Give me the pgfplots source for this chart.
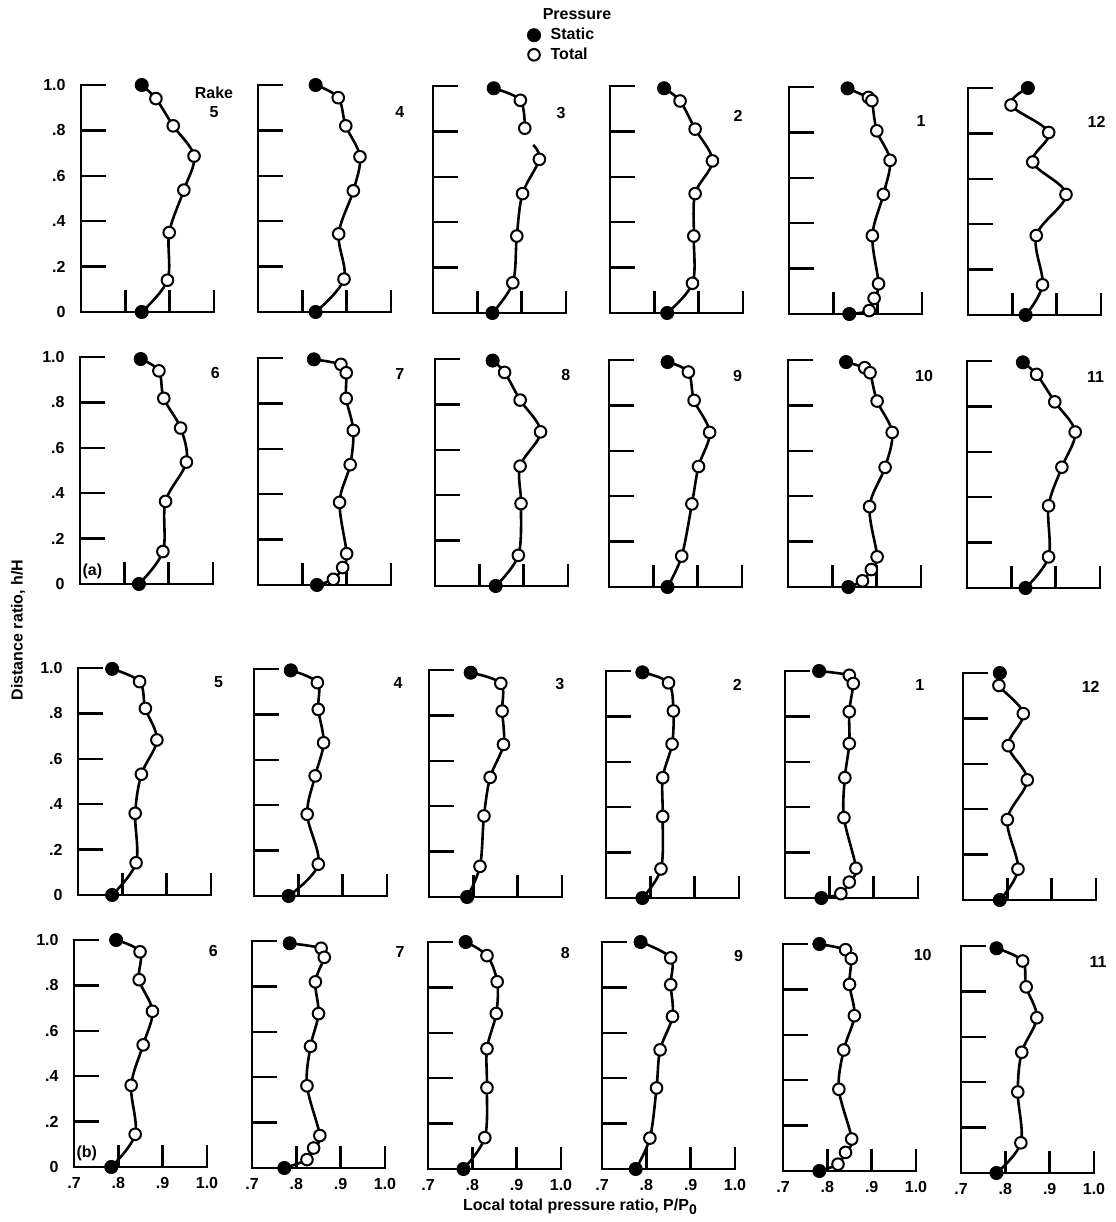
\documentclass[border=0pt]{standalone}
\usepackage{fontspec}
\setmainfont{Liberation Sans}
\usepackage{pgfplots}
\pgfplotsset{compat=1.18}
\newcommand{\lbl}{\fontsize{8}{9.5}\selectfont\bfseries}
\pgfplotsset{
 panel/.style={scale only axis, width=66.5pt, height=113.5pt,
  xmin=0.7, xmax=1.0, ymin=0, ymax=1, anchor=south west, clip=false,
  axis x line=bottom, axis y line=left,
  axis line style={-, line width=1.3pt, line cap=rect},
  tick align=inside, xtick={0.7,0.8,0.9,1.0}, ytick={0,0.2,0.4,0.6,0.8,1.0},
  xtick style={black, line width=1.2pt, /pgfplots/major tick length=11pt},
  ytick style={black, line width=1.2pt, /pgfplots/major tick length=12.5pt},
  xticklabels={}, yticklabels={},
  tick label style={font=\lbl},
  yticklabel style={xshift=-4.2pt},
  xticklabel style={yshift=-1.8pt},
  font=\lbl},
 pcurve/.style={smooth, tension=0.55, line width=1.3pt, black, no marks, forget plot},
 pcurvex/.style={smooth, tension=0.55, line width=1.3pt, black, no marks, forget plot},
 pstatic/.style={only marks, mark=*, mark size=3.3pt, black, mark options={fill=black, draw=black}},
 ptotal/.style={only marks, mark=*, mark size=2.9pt, black, mark options={fill=white, draw=black, line width=1pt}},
}
% #1 left px, #2 base px, #3 opts, #4 label pos, #5 label, #6 top static, #7 totals, #8 bottom static, #9 extra
\newcommand{\panel}[9]{%
\begin{axis}[panel, at={({#1*0.5pt},{(1222-#2)*0.5pt})}, #3]
\addplot[pcurve] coordinates {#6 #7 #8};
\addplot[pstatic] coordinates {#6 #8};
\addplot[ptotal] coordinates {#7};
\node[font=\lbl] at (axis cs:#4) {#5};
#9
\end{axis}}
\begin{document}
\begin{tikzpicture}
\path[use as bounding box] (0,0) rectangle (557.5pt,611pt);
% ---------------- Row 1
\panel{81}{312}{yticklabels={0,.2,.4,.6,.8,1.0}}{1.0,0.88}{5}
 {(0.837,1.0)}{(0.869,0.94) (0.908,0.82) (0.955,0.687) (0.932,0.537) (0.899,0.35) (0.895,0.14)}{(0.837,0)}
 {\node[font=\lbl] at (axis cs:1.0,0.965) {Rake};}
\panel{258}{312}{}{1.02,0.88}{4}
 {(0.830,1.0)}{(0.881,0.944) (0.898,0.82) (0.930,0.684) (0.915,0.534) (0.882,0.344) (0.894,0.145)}{(0.830,0)}{}
\panel{433}{313}{pcurve/.append style={draw=none},
  legend style={at={(0.707,1.262)}, anchor=north west, draw=none, fill=none, inner sep=0pt,
  font=\lbl, nodes={inner sep=0.5pt}, row sep=1.5pt, column sep=4.5pt, cells={anchor=west}}}{0.989,0.88}{3}
 {(0.837,0.99)}{(0.897,0.937) (0.907,0.814) (0.940,0.677) (0.902,0.526) (0.889,0.339) (0.880,0.133)}{(0.834,0)}
 {\addplot[pcurvex] coordinates {(0.837,0.99) (0.897,0.937) (0.907,0.814)};
  \addplot[pcurvex] coordinates {(0.926,0.74) (0.940,0.677) (0.902,0.526) (0.889,0.339) (0.880,0.133) (0.834,0)};
  \addlegendentry{Static}
  \addlegendentry{Total}
  \node[font=\lbl] at (axis description cs:1.083,1.317) {Pressure};}
\panel{610}{313}{}{0.989,0.87}{2}
 {(0.822,0.99)}{(0.858,0.934) (0.892,0.81) (0.931,0.67) (0.892,0.526) (0.889,0.339) (0.886,0.131)}{(0.829,0)}{}
\panel{789}{314}{}{0.998,0.85}{1}
 {(0.832,0.994)}{(0.879,0.954) (0.887,0.94) (0.898,0.807) (0.928,0.677) (0.913,0.527) (0.888,0.345) (0.902,0.133) (0.892,0.069) (0.881,0.015)}{(0.836,0)}{}
\panel{968}{315}{}{0.99,0.85}{12}
 {(0.835,1.0)}{(0.797,0.925) (0.882,0.804) (0.846,0.674) (0.921,0.531) (0.854,0.35) (0.868,0.133)}{(0.830,0)}{}
% ---------------- Row 2
\panel{80}{584}{yticklabels={0,.2,.4,.6,.8,1.0}}{1.005,0.93}{6}
 {(0.837,0.991)}{(0.878,0.939) (0.889,0.818) (0.927,0.687) (0.940,0.537) (0.893,0.364) (0.887,0.143)}{(0.833,0)}
 {\node[font=\lbl, anchor=west, inner sep=0pt] at (axis cs:0.705,0.055) {(a)};}
\panel{258}{585}{}{1.02,0.93}{7}
 {(0.826,0.994)}{(0.887,0.972) (0.899,0.935) (0.899,0.822) (0.915,0.681) (0.908,0.53) (0.884,0.364) (0.900,0.138) (0.891,0.077) (0.870,0.025)}{(0.833,0)}{}
\panel{435}{586}{}{0.995,0.93}{8}
 {(0.830,0.993)}{(0.857,0.941) (0.892,0.819) (0.938,0.679) (0.892,0.528) (0.894,0.363) (0.888,0.135)}{(0.837,0)}{}
\panel{609}{587}{}{0.99,0.93}{9}
 {(0.832,0.991)}{(0.879,0.947) (0.892,0.822) (0.927,0.681) (0.902,0.531) (0.887,0.366) (0.864,0.136)}{(0.832,0)}{}
\panel{788}{587}{}{1.007,0.93}{10}
 {(0.831,0.991)}{(0.873,0.966) (0.885,0.944) (0.901,0.819) (0.935,0.681) (0.919,0.527) (0.884,0.354) (0.901,0.133) (0.888,0.077) (0.868,0.027)}{(0.836,0)}{}
\panel{967}{588}{}{0.99,0.93}{11}
 {(0.826,0.994)}{(0.857,0.941) (0.898,0.82) (0.944,0.687) (0.914,0.532) (0.884,0.362) (0.884,0.137)}{(0.832,0)}{}
% ---------------- Row 3
\panel{78}{895}{yticklabels={0,.2,.4,.6,.8,1.0}}{1.017,0.94}{5}
 {(0.777,0.996)}{(0.839,0.94) (0.852,0.822) (0.878,0.683) (0.843,0.532) (0.829,0.36) (0.831,0.142)}{(0.777,0)}{}
\panel{254}{896}{}{1.025,0.94}{4}
 {(0.783,0.994)}{(0.843,0.94) (0.845,0.822) (0.857,0.675) (0.838,0.529) (0.820,0.36) (0.845,0.14)}{(0.778,0)}{}
\panel{429}{897}{}{0.995,0.94}{3}
 {(0.794,0.988)}{(0.862,0.941) (0.865,0.819) (0.868,0.672) (0.838,0.527) (0.824,0.357) (0.815,0.135)}{(0.786,0)}{}
\panel{606}{898}{}{0.996,0.94}{2}
 {(0.782,0.994)}{(0.841,0.948) (0.852,0.824) (0.849,0.678) (0.828,0.53) (0.828,0.359) (0.824,0.128)}{(0.782,0)}{}
\panel{785}{898}{}{1.004,0.94}{1}
 {(0.777,1.0)}{(0.845,0.981) (0.854,0.945) (0.845,0.821) (0.845,0.68) (0.835,0.53) (0.833,0.354) (0.860,0.131) (0.845,0.07) (0.826,0.019)}{(0.782,0)}{}
\panel{963}{900}{}{0.988,0.94}{12}
 {(0.783,1.0)}{(0.781,0.945) (0.836,0.821) (0.802,0.68) (0.845,0.529) (0.800,0.354) (0.824,0.136)}{(0.783,0)}{}
% ---------------- Row 4
\panel{74}{1167}{yticklabels={0,.2,.4,.6,.8,1.0}, xticklabels={.7,.8,.9,1.0}}{1.014,0.95}{6}
 {(0.795,1.0)}{(0.849,0.948) (0.847,0.825) (0.877,0.686) (0.856,0.538) (0.829,0.36) (0.838,0.144)}{(0.784,0)}
 {\node[font=\lbl, anchor=west, inner sep=0pt] at (axis cs:0.705,0.06) {(b)};}
\panel{252}{1168}{xticklabels={.7,.8,.9,1.0}}{1.034,0.95}{7}
 {(0.785,0.99)}{(0.856,0.968) (0.863,0.928) (0.843,0.82) (0.850,0.68) (0.832,0.536) (0.824,0.362) (0.853,0.143) (0.839,0.088) (0.824,0.037)}{(0.773,0)}{}
\panel{428}{1169}{xticklabels={.7,.8,.9,1.0}}{1.01,0.95}{8}
 {(0.785,1.0)}{(0.833,0.94) (0.856,0.825) (0.854,0.685) (0.833,0.53) (0.833,0.358) (0.828,0.138)}{(0.780,0)}{}
\panel{602}{1169}{xticklabels={.7,.8,.9,1.0}}{1.008,0.94}{9}
 {(0.787,1.0)}{(0.855,0.93) (0.855,0.812) (0.859,0.672) (0.831,0.525) (0.823,0.357) (0.808,0.136)}{(0.776,0)}{}
\panel{783}{1171}{xticklabels={.7,.8,.9,1.0}}{1.015,0.95}{10}
 {(0.782,1.0)}{(0.841,0.975) (0.854,0.936) (0.850,0.822) (0.861,0.684) (0.837,0.533) (0.826,0.36) (0.855,0.141) (0.841,0.082) (0.824,0.03)}{(0.782,0)}{}
\panel{961}{1173}{xticklabels={.7,.8,.9,1.0}}{1.009,0.93}{11}
 {(0.78,0.99)}{(0.839,0.934) (0.847,0.82) (0.871,0.684) (0.837,0.532) (0.828,0.357) (0.835,0.133)}{(0.78,0)}{}
% ---------------- axis titles
\node[rotate=90, font=\lbl] at (9pt,296pt) {Distance ratio, h/H};
\node[font=\lbl] at (290pt,7.5pt) {Local total pressure ratio, P/P\raisebox{-0.45ex}{\fontsize{7}{8}\selectfont\bfseries 0}};
\end{tikzpicture}
\end{document}
